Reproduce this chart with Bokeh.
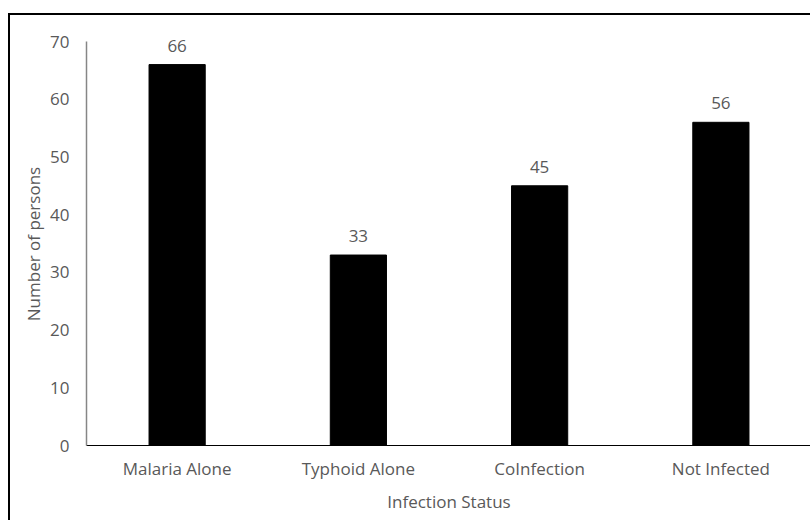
from bokeh.plotting import figure
from bokeh.models import Range1d, FixedTicker, ColumnDataSource, LabelSet
from bokeh.core.properties import value
from bokeh.embed import file_html
from bokeh.resources import INLINE

categories = ["Malaria Alone", "Typhoid Alone", "CoInfection", "Not Infected"]
counts = [66, 33, 45, 56]
y_ticks = [0, 10, 20, 30, 40, 50, 60, 70]

xpos = [i + 0.5 for i in range(len(categories))]
src = ColumnDataSource(dict(x=xpos, y=counts, lab=[str(c) for c in counts]))

FONT = "Open Sans"
GRAY = "#595959"
FS = "17px"

# Frame extends ~21px above the 70 line so value labels are not clipped
Y_AXIS_MAX = 70
y_end = Y_AXIS_MAX * 425 / 404

p = figure(width=802, height=507, output_backend="svg", toolbar_location=None,
           x_range=Range1d(0, 4), y_range=Range1d(0, y_end),
           min_border_left=76, min_border_right=1, min_border_top=5, min_border_bottom=77,
           margin=(13, 0, 0, 8),
           styles={"border-top": "2px solid black", "border-left": "2px solid black"})
p.outline_line_color = None
p.xgrid.visible = False
p.ygrid.visible = False

p.vbar(x="x", top="y", width=0.31, source=src, fill_color="black", line_color="black")
labels = LabelSet(x="x", y="y", text="lab", source=src, text_align="center",
                  text_baseline="bottom", y_offset=13, text_font=value(FONT),
                  text_font_size=value(FS), text_color=value(GRAY))
p.add_layout(labels)

p.xaxis.ticker = FixedTicker(ticks=xpos)
p.xaxis.major_label_overrides = {x: c for x, c in zip(xpos, categories)}
p.yaxis.ticker = FixedTicker(ticks=y_ticks)
p.yaxis.bounds = (0, Y_AXIS_MAX)

for ax in (p.xaxis[0], p.yaxis[0]):
    ax.major_tick_line_color = None
    ax.minor_tick_line_color = None
    ax.major_label_text_font = FONT
    ax.major_label_text_font_size = FS
    ax.major_label_text_color = GRAY
    ax.axis_label_text_font = FONT
    ax.axis_label_text_font_size = FS
    ax.axis_label_text_color = GRAY
    ax.axis_label_text_font_style = "normal"

p.xaxis.axis_line_color = "black"
p.yaxis.axis_line_color = "#868686"
p.yaxis.axis_line_width = 1.5
p.xaxis.axis_label = "Infection Status"
# trailing non-breaking spaces re-centre the title on the 0-70 axis span
p.yaxis.axis_label = "Number of persons" + "\u00a0" * 5
p.xaxis.major_label_standoff = 5
p.yaxis.major_label_standoff = 11
p.xaxis.axis_label_standoff = 7
p.yaxis.axis_label_standoff = 2

open("out.html", "w").write(file_html(p, INLINE))
